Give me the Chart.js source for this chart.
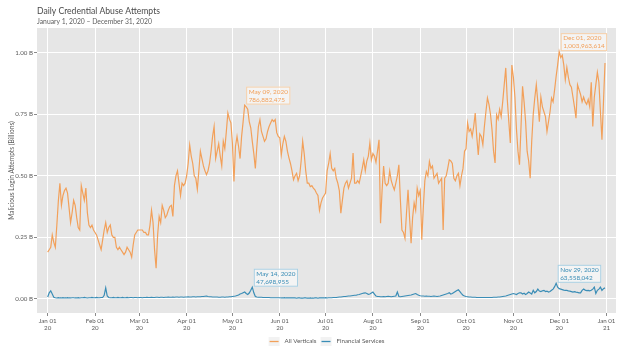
<!DOCTYPE html>
<html><head><meta charset="utf-8">
<script src="https://cdn.jsdelivr.net/npm/chart.js@4/dist/chart.umd.min.js"></script>
<style>html,body{margin:0;padding:0;background:#fff}#wrap{width:640px;height:352px;position:relative}</style>
</head><body><div id="wrap"><canvas id="c" width="640" height="352"></canvas></div>
<script>
const titleText = 'Daily Credential Abuse Attempts';
const subtitleText = 'January 1, 2020 \u2013 December 31, 2020';
const yAxisTitle = 'Malicious Login Attempts (Billions)';
const seriesNames = ['All Verticals', 'Financial Services'];
const monthTickDays = [0,31,60,91,121,152,182,213,244,274,305,335,366];
const monthTickLabels = [['Jan 01','20'],['Feb 01','20'],['Mar 01','20'],['Apr 01','20'],['May 01','20'],['Jun 01','20'],['Jul 01','20'],['Aug 01','20'],['Sep 01','20'],['Oct 01','20'],['Nov 01','20'],['Dec 01','20'],['Jan 01','21']];
const yTickValues = [0, 0.25, 0.5, 0.75, 1.0];

// daily values, billions (day 0 = Jan 1 2020)
const allVerticals = [
0.19,0.20,0.21,0.26,0.23,0.21,0.30,0.40,0.47,0.38,
0.42,0.44,0.45,0.43,0.37,0.31,0.35,0.40,0.38,0.33,
0.29,0.28,0.46,0.43,0.40,0.45,0.35,0.30,0.29,0.30,
0.28,0.27,0.26,0.24,0.22,0.20,0.24,0.28,0.31,0.27,
0.29,0.30,0.26,0.25,0.25,0.21,0.20,0.21,0.20,0.19,
0.18,0.19,0.21,0.20,0.19,0.17,0.22,0.26,0.27,0.28,
0.28,0.28,0.28,0.27,0.27,0.26,0.26,0.30,0.36,0.31,
0.20,0.125,0.26,0.335,0.31,0.38,0.36,0.33,0.34,0.36,
0.375,0.38,0.335,0.46,0.50,0.52,0.47,0.42,0.47,0.46,
0.47,0.50,0.55,0.625,0.58,0.55,0.50,0.49,0.445,0.52,
0.60,0.57,0.54,0.52,0.505,0.52,0.55,0.60,0.66,0.70,
0.57,0.60,0.63,0.58,0.54,0.64,0.61,0.68,0.755,0.73,
0.715,0.63,0.477,0.62,0.66,0.62,0.57,0.66,0.72,0.787,
0.78,0.77,0.72,0.695,0.64,0.59,0.53,0.62,0.70,0.728,
0.68,0.66,0.64,0.65,0.68,0.70,0.714,0.728,0.72,0.728,
0.675,0.66,0.654,0.585,0.63,0.66,0.64,0.60,0.573,0.55,
0.52,0.484,0.50,0.51,0.48,0.50,0.56,0.64,0.59,0.52,
0.47,0.47,0.456,0.46,0.45,0.443,0.43,0.42,0.36,0.39,
0.41,0.42,0.43,0.52,0.55,0.59,0.53,0.52,0.53,0.49,
0.47,0.44,0.348,0.40,0.45,0.47,0.48,0.45,0.47,0.49,
0.592,0.47,0.47,0.48,0.47,0.50,0.53,0.565,0.52,0.56,
0.58,0.633,0.565,0.59,0.58,0.555,0.60,0.646,0.307,0.44,
0.54,0.47,0.46,0.47,0.52,0.48,0.46,0.443,0.47,0.50,
0.545,0.40,0.28,0.27,0.246,0.35,0.443,0.33,0.226,0.33,
0.39,0.36,0.45,0.42,0.44,0.24,0.37,0.48,0.517,0.50,
0.558,0.53,0.54,0.49,0.50,0.51,0.47,0.48,0.49,0.28,
0.49,0.50,0.53,0.565,0.56,0.55,0.49,0.48,0.50,0.51,
0.46,0.50,0.53,0.60,0.61,0.714,0.68,0.69,0.66,0.70,
0.755,0.66,0.585,0.67,0.66,0.626,0.70,0.76,0.816,0.79,
0.75,0.687,0.60,0.552,0.748,0.73,0.77,0.74,0.80,0.87,
0.938,0.81,0.72,0.633,0.95,0.90,0.82,0.69,0.60,0.545,
0.70,0.863,0.80,0.72,0.60,0.56,0.49,0.64,0.75,0.816,
0.87,0.80,0.72,0.82,0.78,0.76,0.74,0.68,0.72,0.76,
0.816,0.80,0.85,0.904,0.95,1.004,0.98,0.99,0.95,0.89,
0.94,0.90,0.87,0.86,0.82,0.78,0.734,0.87,0.85,0.83,
0.80,0.82,0.80,0.79,0.81,0.78,0.88,0.70,0.82,0.87,
0.92,0.88,0.76,0.646,0.80,0.958];

const financialServices = [
0.008,0.025,0.033,0.02,0.007,0.005,0.004,0.005,0.004,0.004,
0.005,0.004,0.004,0.005,0.004,0.004,0.005,0.005,0.004,0.004,
0.005,0.004,0.005,0.005,0.006,0.005,0.004,0.005,0.005,0.006,
0.005,0.005,0.006,0.005,0.005,0.006,0.006,0.015,0.045,0.012,
0.006,0.005,0.005,0.006,0.005,0.005,0.006,0.005,0.005,0.006,
0.005,0.005,0.006,0.005,0.006,0.006,0.005,0.006,0.006,0.005,
0.006,0.006,0.005,0.006,0.006,0.007,0.006,0.006,0.007,0.006,
0.006,0.007,0.007,0.006,0.007,0.007,0.006,0.007,0.007,0.008,
0.007,0.007,0.008,0.007,0.008,0.008,0.007,0.008,0.008,0.007,
0.008,0.008,0.009,0.008,0.008,0.009,0.009,0.008,0.009,0.009,
0.009,0.010,0.010,0.011,0.012,0.010,0.009,0.009,0.008,0.008,
0.008,0.008,0.007,0.007,0.008,0.008,0.007,0.008,0.008,0.009,
0.009,0.010,0.011,0.012,0.014,0.016,0.020,0.022,0.025,0.028,
0.022,0.018,0.024,0.035,0.0477,0.025,0.010,0.008,0.007,0.007,
0.007,0.006,0.006,0.006,0.006,0.006,0.005,0.005,0.005,0.005,
0.005,0.005,0.005,0.004,0.004,0.005,0.004,0.004,0.004,0.004,
0.004,0.004,0.004,0.003,0.004,0.004,0.003,0.003,0.004,0.004,
0.003,0.003,0.004,0.003,0.003,0.004,0.004,0.003,0.004,0.004,
0.004,0.004,0.005,0.004,0.005,0.005,0.005,0.006,0.006,0.006,
0.007,0.008,0.008,0.009,0.010,0.010,0.011,0.012,0.012,0.013,
0.014,0.015,0.015,0.017,0.018,0.020,0.022,0.024,0.025,0.022,
0.019,0.020,0.024,0.028,0.020,0.012,0.010,0.010,0.009,0.009,
0.010,0.009,0.010,0.011,0.010,0.009,0.010,0.011,0.012,0.028,
0.010,0.009,0.010,0.011,0.012,0.013,0.014,0.015,0.016,0.018,
0.020,0.022,0.018,0.015,0.013,0.012,0.012,0.011,0.012,0.011,
0.011,0.010,0.011,0.012,0.011,0.010,0.011,0.012,0.014,0.016,
0.018,0.020,0.022,0.025,0.020,0.022,0.026,0.030,0.034,0.037,
0.030,0.022,0.015,0.012,0.010,0.009,0.008,0.008,0.007,0.007,
0.007,0.006,0.006,0.006,0.006,0.006,0.006,0.006,0.006,0.006,
0.006,0.006,0.007,0.007,0.007,0.008,0.008,0.009,0.010,0.011,
0.012,0.014,0.016,0.018,0.020,0.022,0.020,0.018,0.022,0.025,
0.025,0.020,0.023,0.018,0.022,0.028,0.024,0.020,0.035,0.025,
0.030,0.040,0.032,0.030,0.033,0.035,0.030,0.032,0.028,0.030,
0.035,0.040,0.050,0.0636,0.048,0.042,0.040,0.038,0.036,0.035,
0.035,0.033,0.032,0.030,0.028,0.030,0.028,0.027,0.025,0.025,
0.035,0.040,0.036,0.034,0.035,0.033,0.035,0.040,0.048,0.022,
0.035,0.040,0.048,0.035,0.042,0.045];

const annotationDays = [129, 335, 134, 333];
const annotationSeries = [0, 0, 1, 1];
const annotationDates = ['May 09, 2020', 'Dec 01, 2020', 'May 14, 2020', 'Nov 29, 2020'];
const annotationCounts = [786882475, 1003963614, 47698955, 63558042];

const ORANGE = '#F2A05A';
const BLUE = '#3A8DB6';
const seriesColors = [ORANGE, BLUE];
const boxBorders = ['#F6CFA8', '#A9D0E3'];
const FONT = 'Lato, "Open Sans", sans-serif';
const TEXT = '#5a5a5a';

const seriesData = [allVerticals, financialServices];

const bgPlugin = {
  id: 'panelBg',
  beforeDraw(chart) {
    const {ctx, chartArea: a} = chart;
    ctx.save();
    ctx.fillStyle = '#fff';
    ctx.fillRect(0, 0, chart.width, chart.height);
    ctx.fillStyle = '#E6E6E6';
    ctx.fillRect(a.left, a.top, a.right - a.left, a.bottom - a.top);
    ctx.restore();
  }
};

const headerPlugin = {
  id: 'header',
  afterDraw(chart) {
    const ctx = chart.ctx;
    ctx.save();
    ctx.textBaseline = 'middle';
    ctx.textAlign = 'left';
    ctx.fillStyle = '#4a4a4a';
    ctx.font = '8.6px ' + FONT;
    ctx.fillText(titleText, 37, 11);
    ctx.fillStyle = '#5e5e5e';
    ctx.font = '6.8px ' + FONT;
    ctx.fillText(subtitleText, 37, 22);
    // legend
    const a = chart.chartArea;
    ctx.font = '6.2px ' + FONT;
    const gapKeyText = 5, keyW = 11, itemGap = 4;
    const widths = seriesNames.map(n => ctx.measureText(n).width);
    const total = widths.reduce((s, w) => s + keyW + gapKeyText + w, 0) + itemGap;
    let x = (a.left + a.right) / 2 - total / 2;
    const y = 341.5;
    seriesNames.forEach((n, i) => {
      ctx.fillStyle = '#F2F2F2';
      ctx.fillRect(x, y - 4.5, keyW, 9);
      ctx.strokeStyle = seriesColors[i];
      ctx.lineWidth = 1.3;
      ctx.beginPath();
      ctx.moveTo(x + 1, y);
      ctx.lineTo(x + keyW - 1, y);
      ctx.stroke();
      ctx.fillStyle = TEXT;
      ctx.fillText(n, x + keyW + gapKeyText, y);
      x += keyW + gapKeyText + widths[i] + itemGap;
    });
    ctx.restore();
  }
};

const annotationPlugin = {
  id: 'peakLabels',
  afterDatasetsDraw(chart) {
    const ctx = chart.ctx;
    const xs = chart.scales.x, ys = chart.scales.y;
    ctx.save();
    ctx.font = '6.4px ' + FONT;
    ctx.textBaseline = 'middle';
    ctx.textAlign = 'left';
    annotationDays.forEach((d, i) => {
      const s = annotationSeries[i];
      const px = xs.getPixelForValue(d);
      const py = ys.getPixelForValue(seriesData[s][d]);
      const l1 = annotationDates[i];
      const l2 = annotationCounts[i].toLocaleString('en-US');
      const w = Math.max(ctx.measureText(l1).width, ctx.measureText(l2).width) + 5;
      const h = 18;
      const left = px + 1.5, top = py - 0.5 - h;
      ctx.fillStyle = 'rgba(255,255,255,0.55)';
      ctx.fillRect(left, top, w, h);
      ctx.strokeStyle = boxBorders[s];
      ctx.lineWidth = 1;
      ctx.strokeRect(left + 0.5, top + 0.5, w - 1, h - 1);
      ctx.fillStyle = seriesColors[s];
      ctx.fillText(l1, left + 2.5, top + 5);
      ctx.fillText(l2, left + 2.5, top + 13);
    });
    ctx.restore();
  }
};

new Chart(document.getElementById('c').getContext('2d'), {
  type: 'line',
  data: {
    datasets: seriesNames.map((name, i) => ({
      label: name,
      data: seriesData[i].map((v, d) => ({x: d, y: v})),
      borderColor: seriesColors[i],
      borderWidth: 1.2,
      pointRadius: 0,
      tension: 0,
      fill: false
    }))
  },
  options: {
    responsive: false,
    animation: false,
    devicePixelRatio: 1,
    layout: {padding: {top: 28, right: 24, left: 0, bottom: 19}},
    plugins: {legend: {display: false}, tooltip: {enabled: false}, title: {display: false}},
    scales: {
      x: {
        type: 'linear', min: -7, max: 372.2,
        afterBuildTicks: s => { s.ticks = monthTickDays.map(v => ({value: v})); },
        afterFit: s => { s.height = 20; },
        ticks: {
          autoSkip: false, maxRotation: 0, padding: 1,
          font: {family: FONT, size: 6.2, lineHeight: 1.2}, color: TEXT,
          callback: v => monthTickLabels[monthTickDays.indexOf(v)]
        },
        grid: {color: '#FFFFFF', lineWidth: 1, tickColor: '#8a8a8a', tickLength: 3},
        border: {display: false}
      },
      y: {
        min: -0.057, max: 1.1,
        afterBuildTicks: s => { s.ticks = yTickValues.map(v => ({value: v})); },
        afterFit: s => { s.width = 37; },
        ticks: {
          padding: 1, font: {family: FONT, size: 6.2}, color: TEXT,
          callback: v => v.toFixed(2) + ' B'
        },
        title: {display: true, text: yAxisTitle, color: TEXT, font: {family: FONT, size: 6.6}, padding: {top: 8, bottom: 0}},
        grid: {color: '#FFFFFF', lineWidth: 1, tickColor: '#8a8a8a', tickLength: 3},
        border: {display: false}
      }
    }
  },
  plugins: [bgPlugin, annotationPlugin, headerPlugin]
});
</script>
</body></html>
